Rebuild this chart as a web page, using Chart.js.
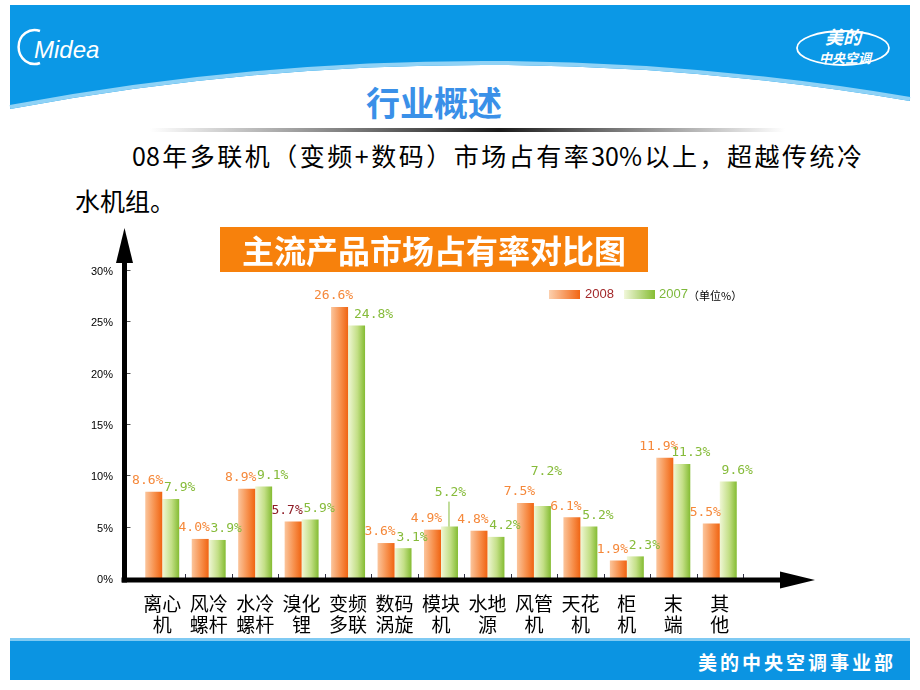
<!DOCTYPE html>
<html>
<head>
<meta charset="utf-8">
<script src="https://cdn.jsdelivr.net/npm/chart.js@4"></script>
<style>
body { margin: 0; background: #fff; }
#page { position: relative; width: 920px; height: 690px; overflow: hidden; font-family: "Noto Sans CJK SC", sans-serif; }
.abs { position: absolute; white-space: nowrap; }
#line1 { left: 132px; top: 141px; width: 730px; font-size: 25px; line-height: 28px; text-align: justify; text-align-last: justify; }
#line2 { left: 75px; top: 186px; font-size: 25px; line-height: 28px; }
#head { left: 0; width: 868px; top: 82px; text-align: center; font-size: 34px; line-height: 40px; font-weight: 700; color: #3a90e8; }
#ctitle { left: 220px; top: 227px; width: 428px; height: 45px; background: #f7810c; color: #fff; font-size: 32px; font-weight: 700; line-height: 45px; text-align: center; }
.sw { position: absolute; top: 290px; width: 31px; height: 9px; }
.lg { position: absolute; top: 285px; font-family: "Liberation Sans", Arial, sans-serif; font-size: 13px; line-height: 18px; }
#foot { right: 24px; top: 648px; color: #fff; font-size: 19px; font-weight: 700; letter-spacing: 3px; line-height: 28px; }
</style>
</head>
<body>
<div id="page">
<svg class="abs" width="920" height="690" style="left:0;top:0">
  <defs>
    <linearGradient id="rule" x1="0" x2="1" y1="0" y2="0">
      <stop offset="0" stop-color="#fff"/>
      <stop offset="0.55" stop-color="#1a1a1a"/>
      <stop offset="1" stop-color="#fff"/>
    </linearGradient>
  </defs>
  <path d="M10 5 H910 V101 Q460 25 10 109 Z" fill="#0b98e6"/>
  <path d="M10 107 Q460 23 910 99" fill="none" stroke="#8fd2f6" stroke-width="4"/>
  <rect x="150" y="128" width="635" height="4" fill="url(#rule)"/>
  <!-- Midea logo -->
  <path d="M40 31 A16 17 0 1 0 40 63" fill="none" stroke="#fff" stroke-width="2.5"/>
  <text x="34" y="58" fill="#fff" font-family="Liberation Sans, Arial" font-size="24" font-style="italic">Midea</text>
  <!-- right logo -->
  <ellipse cx="843" cy="48" rx="46" ry="17" fill="none" stroke="#fff" stroke-width="1.8"/>
  <text x="843" y="44" fill="#fff" text-anchor="middle" font-size="18" font-weight="700" font-style="italic" font-family="Noto Sans CJK SC">美的</text>
  <text x="845" y="63" fill="#fff" text-anchor="middle" font-size="13" font-weight="700" font-style="italic" font-family="Noto Sans CJK SC">中央空调</text>
  <!-- bottom band -->
  <rect x="10" y="638" width="900" height="3" fill="#7fcaf3"/>
  <rect x="10" y="641" width="900" height="39" fill="#0b94e2"/>
</svg>
<div id="head" class="abs">行业概述</div>
<div id="line1" class="abs">08年多联机（变频+数码）市场占有率30%以上，超越传统冷</div>
<div id="line2" class="abs">水机组。</div>
<canvas id="chart" width="760" height="425" style="position:absolute;left:80px;top:220px"></canvas>
<div id="ctitle" class="abs">主流产品市场占有率对比图</div>
<div class="sw" style="left:549px;background:linear-gradient(to right,#fcd0ae,#f26614)"></div>
<div class="lg" style="left:585px;color:#a3282a">2008</div>
<div class="sw" style="left:624px;background:linear-gradient(to right,#f1f7da,#86bd33)"></div>
<div class="lg" style="left:659px;color:#7db83a">2007</div>
<div class="lg" style="left:688px;top:286px;color:#000;font-family:'Noto Sans CJK SC';font-size:11px">（单位%）</div>
<div id="foot" class="abs">美的中央空调事业部</div>
</div>
<script>
// 数据
const categories = [['离心', '机'], ['风冷', '螺杆'], ['水冷', '螺杆'], ['溴化', '锂'], ['变频', '多联'], ['数码', '涡旋'], ['模块', '机'], ['水地', '源'], ['风管', '机'], ['天花', '机'], ['柜', '机'], ['末', '端'], ['其', '他']];
const share2008 = [8.6, 4.0, 8.9, 5.7, 26.6, 3.6, 4.9, 4.8, 7.5, 6.1, 1.9, 11.9, 5.5];
const share2007 = [7.9, 3.9, 9.1, 5.9, 24.8, 3.1, 5.2, 4.2, 7.2, 5.2, 2.3, 11.3, 9.6];
const yTicks = [0, 5, 10, 15, 20, 25, 30];

const catPct = 0.731;

// dégradé horizontal pour chaque barre
function barGradient(c, stops, side) {
  const chart = c.chart;
  const area = chart.chartArea;
  if (!area) return stops[1];
  const cx = chart.scales.x.getPixelForValue(c.dataIndex);
  const w = (area.width / categories.length) * catPct / 2;
  const x0 = side < 0 ? cx - w : cx;
  const g = chart.ctx.createLinearGradient(x0, 0, x0 + w, 0);
  g.addColorStop(0, stops[0]);
  g.addColorStop(0.55, stops[1]);
  g.addColorStop(1, stops[2]);
  return g;
}

// étiquettes de valeur
const valueLabels = {
  id: 'valueLabels',
  afterDatasetsDraw(chart) {
    const ctx = chart.ctx;
    ctx.save();
    ctx.font = '13px "DejaVu Sans Mono", monospace';
    ctx.textAlign = 'center';
    ctx.textBaseline = 'middle';
    chart.data.datasets.forEach((ds, di) => {
      chart.getDatasetMeta(di).data.forEach((bar, i) => {
        let dx = di === 0 ? -6 : 9;
        let lift = 11;
        if (di === 1 && (i === 6 || i === 8)) { lift = 34; dx = di === 1 && i === 6 ? 1 : 4; }
        if (di === 1 && i === 4) dx = 17;
        ctx.fillStyle = (di === 0 && i === 3) ? '#8e1d27' : ds.labelColor;
        ctx.fillText(ds.data[i].toFixed(1) + '%', bar.x + dx, bar.y - lift);
        if (di === 1 && i === 6) {
          ctx.strokeStyle = ds.labelColor;
          ctx.lineWidth = 1;
          ctx.beginPath();
          ctx.moveTo(bar.x - 0.5, bar.y - lift + 9);
          ctx.lineTo(bar.x - 0.5, bar.y);
          ctx.stroke();
        }
      });
    });
    ctx.restore();
  }
};

// axes avec flèches
const arrowAxes = {
  id: 'arrowAxes',
  afterDraw(chart) {
    const ctx = chart.ctx;
    const a = chart.chartArea;
    const y0 = chart.scales.y.getPixelForValue(0);
    const ax = a.left - 14.5;
    ctx.save();
    ctx.fillStyle = '#000';
    // petites graduations
    ctx.fillStyle = '#555';
    yTicks.forEach(v => {
      if (v === 0) return;
      ctx.fillRect(ax + 2, Math.round(chart.scales.y.getPixelForValue(v)) - 2, 4, 1);
    });
    ctx.fillStyle = '#334';
    for (let i = 1; i <= categories.length; i++) {
      const bx = a.left + a.width * i / categories.length;
      ctx.fillRect(Math.round(bx), y0 - 6, 1, 4);
    }
    ctx.fillStyle = '#000';
    // axe Y
    ctx.fillRect(ax - 2.5, 40, 5, y0 + 2.5 - 40);
    ctx.beginPath();
    ctx.moveTo(ax, 8);
    ctx.lineTo(ax + 8.5, 43);
    ctx.lineTo(ax - 8.5, 43);
    ctx.closePath();
    ctx.fill();
    // axe X
    ctx.fillRect(ax - 3, y0 - 2.5, 700 - ax + 3 + 2, 5);
    ctx.beginPath();
    ctx.moveTo(735, y0);
    ctx.lineTo(700, y0 - 8.5);
    ctx.lineTo(700, y0 + 8.5);
    ctx.closePath();
    ctx.fill();
    ctx.restore();
  }
};

const config = {
  type: 'bar',
  data: {
    labels: categories,
    datasets: [{
      label: '2008',
      data: share2008,
      labelColor: '#f5883a',
      backgroundColor: c => barGradient(c, ['#fbc59c', '#f7904c', '#f06412'], -1)
    }, {
      label: '2007',
      data: share2007,
      labelColor: '#86bb3a',
      backgroundColor: c => barGradient(c, ['#f0f7d6', '#c3df86', '#84bc32'], 1)
    }]
  },
  options: {
    responsive: false,
    devicePixelRatio: 1,
    animation: false,
    categoryPercentage: catPct,
    barPercentage: 1.0,
    layout: { padding: { top: 52, right: 97, left: 0, bottom: 0 } },
    plugins: {
      legend: { display: false },
      tooltip: { enabled: false }
    },
    scales: {
      x: {
        grid: { display: false, drawTicks: false },
        border: { display: false },
        afterFit: s => { s.height = 65; },
        ticks: {
          color: '#000',
          padding: 13,
          font: { family: '"Noto Sans CJK SC"', size: 19, lineHeight: 1.1 }
        }
      },
      y: {
        min: 0,
        max: 30,
        grid: { display: false, drawTicks: false },
        border: { display: false },
        afterFit: s => { s.width = 59; },
        afterBuildTicks: s => { s.ticks = yTicks.map(v => ({ value: v })); },
        ticks: {
          color: '#000',
          padding: 26,
          font: { family: '"Liberation Sans", Arial', size: 11 },
          callback: v => v + '%'
        }
      }
    }
  },
  plugins: [valueLabels, arrowAxes]
};

const chart = new Chart(document.getElementById('chart').getContext('2d'), config);
</script>
</body>
</html>
